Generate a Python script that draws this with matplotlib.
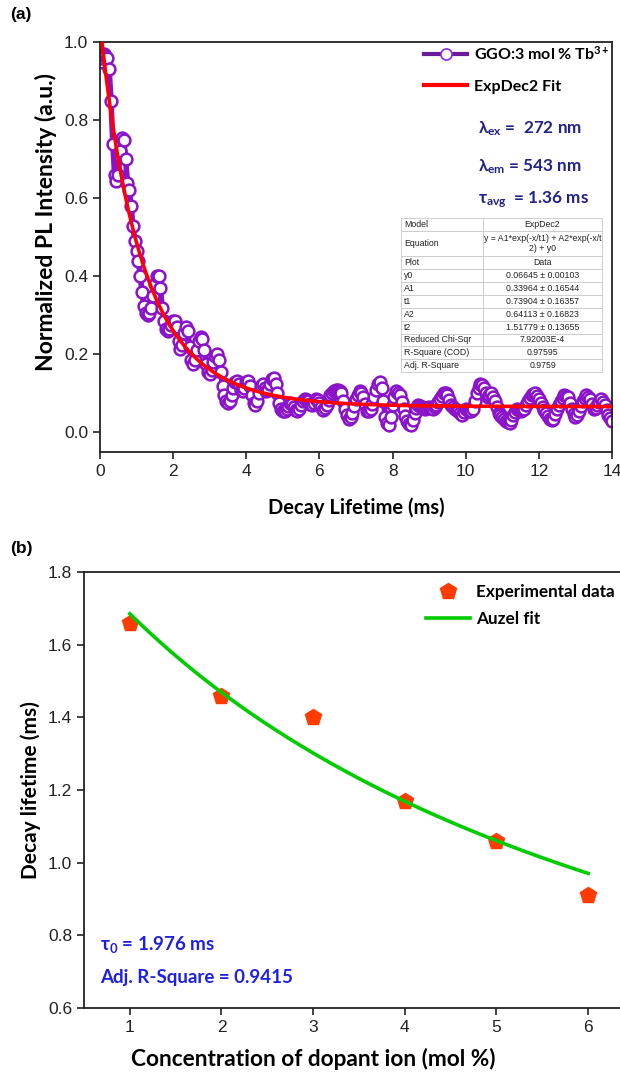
import numpy as np
import matplotlib
matplotlib.use("Agg")
import matplotlib.pyplot as plt
from matplotlib.lines import Line2D

## Fonts: Arial-like for ticks, Calibri-like (Lato) for labels
plt.rcParams['font.family'] = ['Liberation Sans', 'DejaVu Sans']
plt.rcParams['mathtext.fontset'] = 'custom'
plt.rcParams['mathtext.rm'] = 'Lato'
plt.rcParams['mathtext.bf'] = 'Lato:bold'
plt.rcParams['mathtext.it'] = 'Lato:italic'
plt.rcParams['mathtext.fallback'] = 'stix'

## ---------------- Panel (a): PL decay curve ----------------
## sampling grid of the measured decay (0.05 ms steps)
t_head = np.linspace(0.0, 4.95, 100)
t_tail = np.linspace(5.0, 14.0, 181)

pl_head = [0.95, 0.96, 0.97, 0.965, 0.96, 0.93, 0.85, 0.74, 0.66, 0.645,
           0.66, 0.72, 0.755, 0.75, 0.70, 0.64, 0.62, 0.58, 0.53, 0.49,
           0.465, 0.44, 0.40, 0.36, 0.325, 0.305, 0.30, 0.305, 0.32, 0.35,
           0.38, 0.40, 0.40, 0.37, 0.32, 0.285, 0.265, 0.26, 0.265, 0.275,
           0.285, 0.285, 0.27, 0.235, 0.215, 0.225, 0.255, 0.27, 0.26, 0.22,
           0.185, 0.175, 0.185, 0.21, 0.235, 0.245, 0.24, 0.21, 0.175, 0.155,
           0.15, 0.16, 0.18, 0.195, 0.20, 0.185, 0.155, 0.12, 0.095, 0.08,
           0.075, 0.08, 0.095, 0.115, 0.13, 0.133, 0.125, 0.11, 0.105, 0.115,
           0.128, 0.132, 0.12, 0.095, 0.075, 0.07, 0.08, 0.10, 0.12, 0.125,
           0.115, 0.105, 0.11, 0.125, 0.138, 0.14, 0.125, 0.10, 0.075, 0.06]

pl_tail = [0.055, 0.056, 0.06, 0.068, 0.075, 0.072, 0.065, 0.058, 0.055, 0.06,
           0.07, 0.08, 0.085, 0.084, 0.08, 0.074, 0.07, 0.076, 0.085, 0.082,
           0.075, 0.064, 0.058, 0.062, 0.07, 0.083, 0.095, 0.10, 0.105, 0.108,
           0.11, 0.107, 0.10, 0.08, 0.06, 0.045, 0.035, 0.04, 0.05, 0.068,
           0.085, 0.097, 0.105, 0.10, 0.09, 0.072, 0.055, 0.055, 0.06, 0.074,
           0.09, 0.108, 0.125, 0.128, 0.115, 0.08, 0.04, 0.025, 0.02, 0.04,
           0.07, 0.09, 0.105, 0.102, 0.095, 0.078, 0.06, 0.043, 0.03, 0.022,
           0.02, 0.032, 0.05, 0.062, 0.07, 0.068, 0.065, 0.062, 0.06, 0.062,
           0.065, 0.062, 0.06, 0.064, 0.07, 0.077, 0.085, 0.093, 0.10, 0.10,
           0.095, 0.083, 0.07, 0.064, 0.06, 0.058, 0.055, 0.05, 0.045, 0.052,
           0.06, 0.057, 0.055, 0.056, 0.06, 0.08, 0.10, 0.115, 0.125, 0.122,
           0.115, 0.10, 0.09, 0.095, 0.10, 0.092, 0.08, 0.065, 0.05, 0.044,
           0.04, 0.035, 0.03, 0.027, 0.025, 0.033, 0.045, 0.053, 0.06, 0.058,
           0.055, 0.057, 0.06, 0.07, 0.08, 0.088, 0.095, 0.098, 0.10, 0.093,
           0.085, 0.075, 0.065, 0.057, 0.05, 0.042, 0.035, 0.033, 0.035, 0.047,
           0.06, 0.07, 0.08, 0.088, 0.095, 0.094, 0.09, 0.075, 0.06, 0.048,
           0.04, 0.046, 0.055, 0.068, 0.08, 0.088, 0.095, 0.092, 0.085, 0.072,
           0.06, 0.063, 0.07, 0.078, 0.085, 0.078, 0.07, 0.058, 0.045, 0.036,
           0.03]

decay_t = np.concatenate([t_head, t_tail])
decay_pl = np.array(pl_head + pl_tail)

## ExpDec2 fit parameters (as given in the fit table)
y0, A1, t1, A2, t2 = 0.06645, 0.33964, 0.73904, 0.64113, 1.51779

fit_rows = ['Model', 'Equation', 'Plot', 'y0', 'A1', 't1', 'A2', 't2',
            'Reduced Chi-Sqr', 'R-Square (COD)', 'Adj. R-Square']
fit_vals = ['ExpDec2', 'y = A1*exp(-x/t1) + A2*exp(-x/t\n2) + y0', 'Data',
            '0.06645 \u00b1 0.00103', '0.33964 \u00b1 0.16544',
            '0.73904 \u00b1 0.16357', '0.64113 \u00b1 0.16823',
            '1.51779 \u00b1 0.13655', '7.92003E-4', '0.97595', '0.9759']

## ---------------- Panel (b): lifetime vs concentration ----------------
conc = [1, 2, 3, 4, 5, 6]
lifetime = [1.66, 1.46, 1.40, 1.17, 1.06, 0.91]
tau0 = 1.976        # Auzel fit parameter
auzel_k = 0.1727

## ---------------- Figure ----------------
W, H = 620, 1074
fig = plt.figure(figsize=(W / 100, H / 100), dpi=100)


def px_box(left, top, right, bottom):
    """axes rectangle from pixel edges"""
    return [left / W, 1 - bottom / H, (right - left) / W, (bottom - top) / H]


spine_col = '#222222'
purple = '#8A12C8'

## ---- (a)
ax1 = fig.add_axes(px_box(100, 42, 612, 452))
ax1.plot(decay_t, decay_pl, color=purple, lw=4, marker='o', ms=8.5,
         mfc='white', mec=purple, mew=1.8, zorder=2)
fit_t = np.linspace(0, 14, 500)
fit_pl = y0 + A1 * np.exp(-fit_t / t1) + A2 * np.exp(-fit_t / t2)
ax1.plot(fit_t, fit_pl, color='#FF0000', lw=2.6, zorder=3)

ax1.set_xlim(0, 14)
ax1.set_ylim(-0.05, 1.0)
ax1.set_xticks(range(0, 15, 2))
ax1.set_yticks(np.linspace(0, 1, 6))
ax1.set_yticklabels([f"{v:.1f}" for v in np.linspace(0, 1, 6)])
ax1.tick_params(direction='out', length=5, width=1.2, labelsize=12.5,
                colors='#222222')
for s in ax1.spines.values():
    s.set_linewidth(1.3)
    s.set_color(spine_col)

ax1.set_xlabel('Decay Lifetime (ms)', family='Lato', weight='bold', size=14.5)
ax1.xaxis.set_label_coords(0.5, -0.112)
ax1.set_ylabel('Normalized PL Intensity (a.u.)', family='Lato', weight='bold',
               size=16.5)
ax1.yaxis.set_label_coords(-0.084, 0.56)

leg_handles = [Line2D([], [], color='#6A1B9A', lw=3, marker='o', ms=8,
                      mfc='white', mec='#8A2BE2', mew=1.2),
               Line2D([], [], color='#FF0000', lw=3)]
leg_labels = [r'GGO:3 mol % Tb$^{\mathbf{3+}}$', 'ExpDec2 Fit']
ax1.legend(leg_handles, leg_labels, loc='upper right',
           bbox_to_anchor=(1.0, 1.0), frameon=False, handlelength=2.7,
           handletextpad=0.4, labelspacing=1.1, borderaxespad=0.0,
           borderpad=0.15,
           prop=dict(family='Lato', weight='bold', size=11.5))

navy = '#222288'
ann_font = dict(family='Lato', weight='bold', size=12.3)
ax1.text(0.738, 0.788, r'$\mathbf{\lambda_{ex}}$ =  272 nm', color=navy,
         transform=ax1.transAxes, va='center', fontdict=ann_font)
ax1.text(0.738, 0.695, r'$\mathbf{\lambda_{em}}$ = 543 nm', color=navy,
         transform=ax1.transAxes, va='center', fontdict=ann_font)
ax1.text(0.738, 0.615, r'$\mathbf{\tau_{avg}}$  = 1.36 ms', color=navy,
         transform=ax1.transAxes, va='center', fontdict=ann_font)

tb = ax1.table(cellText=[[r, v] for r, v in zip(fit_rows, fit_vals)],
               colWidths=[0.41, 0.59], cellLoc='center',
               bbox=[0.588, 0.195, 0.392, 0.376], zorder=5)
tb.auto_set_font_size(False)
for (r, c), cell in tb.get_celld().items():
    cell.set_edgecolor('#C8C8C8')
    cell.set_linewidth(0.6)
    cell.set_facecolor('white')
    cell.get_text().set_fontsize(6.3)
    cell.get_text().set_color('#222222')
    if c == 0:
        cell.set_text_props(ha='left')
        cell.PAD = 0.04
    if fit_rows[r] == 'Equation':
        cell.set_height(cell.get_height() * 2)

## ---- (b)
ax2 = fig.add_axes(px_box(84, 572, 634, 1008))
fit_c = np.linspace(1, 6, 200)
fit_tau = tau0 / (1 + auzel_k * fit_c)
ax2.plot(conc, lifetime, ls='none', marker='p', ms=12, color='#FF3B00',
         mec='#FF3B00', label='Experimental data', zorder=2)
ax2.plot(fit_c, fit_tau, color='#00CC00', lw=2.6, label='Auzel fit', zorder=3)

ax2.set_xlim(0.5, 6.5)
ax2.set_ylim(0.6, 1.8)
ax2.set_xticks(conc)
ax2.set_yticks(np.linspace(0.6, 1.8, 7))
ax2.set_yticklabels([f"{v:.1f}" for v in np.linspace(0.6, 1.8, 7)])
ax2.tick_params(direction='out', length=5, width=1.2, labelsize=12.5,
                colors='#222222')
for s in ax2.spines.values():
    s.set_linewidth(1.3)
    s.set_color(spine_col)

ax2.set_xlabel('Concentration of dopant ion (mol %)', family='Lato',
               weight='bold', size=16.3)
ax2.xaxis.set_label_coords(0.416, -0.092)
ax2.set_ylabel('Decay lifetime (ms)', family='Lato', weight='bold', size=15)
ax2.yaxis.set_label_coords(-0.078, 0.5)

ax2.legend(loc='upper left', bbox_to_anchor=(0.6, 1.0), frameon=False,
           handlelength=2.6, handletextpad=0.35, labelspacing=0.65,
           borderaxespad=0.3, numpoints=1,
           prop=dict(family='Lato', weight='bold', size=12.3))

blue = '#2020E0'
blue_font = dict(family='Lato', weight='bold', size=13.5)
ax2.text(0.029, 0.1445, r'$\mathbf{\tau_0}$ = 1.976 ms', color=blue,
         transform=ax2.transAxes, va='center', fontdict=blue_font)
ax2.text(0.029, 0.071, 'Adj. R-Square = 0.9415', color=blue,
         transform=ax2.transAxes, va='center', fontdict=blue_font)

## panel letters
fig.text(10 / W, 1 - 15 / H, '(a)', fontsize=12.5, fontweight='bold', va='center')
fig.text(10 / W, 1 - 548 / H, '(b)', fontsize=12.5, fontweight='bold', va='center')

fig.savefig('out.png', dpi=100)
